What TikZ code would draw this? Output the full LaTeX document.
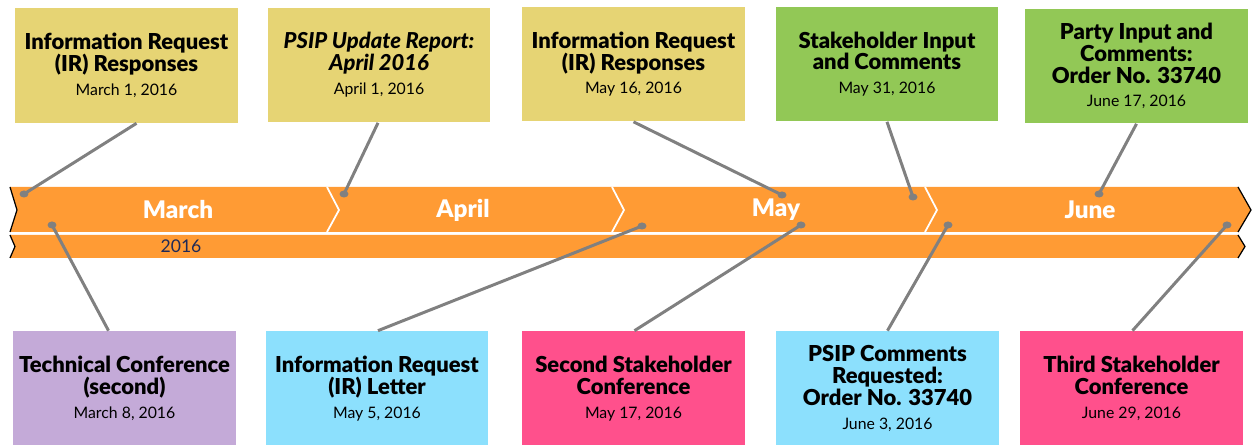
\documentclass[tikz,border=0pt]{standalone}
\usepackage{fontspec}
\setmainfont{Lato}[BoldFont={Lato Black},BoldItalicFont={Lato Black Italic}]
\usetikzlibrary{positioning,calc}

\definecolor{bandorange}{RGB}{255,155,52}
\definecolor{irgold}{RGB}{230,212,116}
\definecolor{inputgreen}{RGB}{146,200,86}
\definecolor{techlilac}{RGB}{196,170,216}
\definecolor{letterblue}{RGB}{140,224,253}
\definecolor{confpink}{RGB}{255,80,140}
\definecolor{linkgray}{RGB}{128,128,128}
\definecolor{yearnavy}{RGB}{31,42,88}

\newcommand\eventtext[2]{#1\\[1pt]{\mdseries\fontsize{9}{12}\selectfont #2}}

\tikzset{
  event/.style={minimum width=4.46cm,minimum height=2.3cm,align=center,inner sep=2pt,
    font=\fontsize{12.5}{12.5}\selectfont\bfseries},
  month/.style={text=white,font=\fontsize{13.8}{15}\selectfont\bfseries},
  link/.style={draw=linkgray,line width=1.7pt},
  cut/.style={draw=white,line width=1pt},
  rim/.style={draw=black,line width=0.7pt}
}

\begin{document}
\begin{tikzpicture}[x=0.02cm,y=-0.02cm]
\useasboundingbox (0,0) rectangle (1252,445);

% the two bands
\fill[bandorange] (10,187) -- (1238,187) -- (1251,210) -- (1238,232) -- (10,232) -- (17,210) -- cycle;
\fill[bandorange] (10,235) -- (1238,235) -- (1245,246.5) -- (1238,258) -- (10,258) -- (15,246.5) -- cycle;
\foreach \x in {327,612,925}
  \draw[cut] (\x,187) -- (\x+12,210) -- (\x,232);
\draw[rim] (10,187) -- (17,210) -- (10,232) (10,235) -- (15,246.5) -- (10,258);
\draw[rim] (1238,187) -- (1251,210) -- (1238,232) (1238,235) -- (1245,246.5) -- (1238,258);

\foreach \m/\x [count=\n] in {March/178,April/463,May/776,June/1090}
  \node[month] (M\n) at (\x,210) {\m};
\node[text=yearnavy,font=\fontsize{10}{12}\selectfont] (Y) at (181,246.5) {2016};

% events above
\foreach \x/\y/\c/\t [count=\n] in {
  126.5/65.5/irgold/{\eventtext{Information Request\\(IR) Responses}{March 1, 2016}},
  379/65/irgold/{\eventtext{\itshape PSIP Update Report:\\\itshape April 2016}{April 1, 2016}},
  633.5/64/irgold/{\eventtext{Information Request\\(IR) Responses}{May 16, 2016}},
  887/64/inputgreen/{\eventtext{Stakeholder Input\\and Comments}{May 31, 2016}},
  1136.5/66/inputgreen/{\eventtext{Party Input and\\Comments:\\Order No. 33740}{June 17, 2016}}}
  \node[event,fill=\c] (T\n) at (\x,\y) {\t};

% events below
\foreach \x/\c/\t [count=\n] in {
  124.5/techlilac/{\eventtext{Technical Conference\\(second)}{March 8, 2016}},
  377/letterblue/{\eventtext{Information Request\\(IR) Letter}{May 5, 2016}},
  633.5/confpink/{\eventtext{Second Stakeholder\\Conference}{May 17, 2016}},
  887.5/letterblue/{\eventtext{PSIP Comments\\Requested:\\Order No. 33740}{June 3, 2016}},
  1131.5/confpink/{\eventtext{Third Stakeholder\\Conference}{June 29, 2016}}}
  \node[event,fill=\c] (B\n) at (\x,388.5) {\t};

% pins on the band
\foreach \x/\y [count=\n] in {24/194,344/194,782/195,913/197,1099/194}
  \coordinate (p\n) at (\x,\y);
\foreach \x/\y [count=\n] in {52/225,642/226,801/225,948/225,1227/225}
  \coordinate (q\n) at (\x,\y);

\foreach \n/\dx in {1/10,2/-1,3/0,4/0,5/0}
  \draw[link] (p\n) -- ($(T\n.south)+(\dx,0)$);
\foreach \n/\dx in {1/-16,2/1,3/1,4/0,5/1}
  \draw[link] (q\n) -- ($(B\n.north)+(\dx,0)$);
\foreach \n in {1,...,5}
  \fill[linkgray] (p\n) ellipse (0.09cm and 0.07cm) (q\n) ellipse (0.09cm and 0.07cm);
\end{tikzpicture}
\end{document}
